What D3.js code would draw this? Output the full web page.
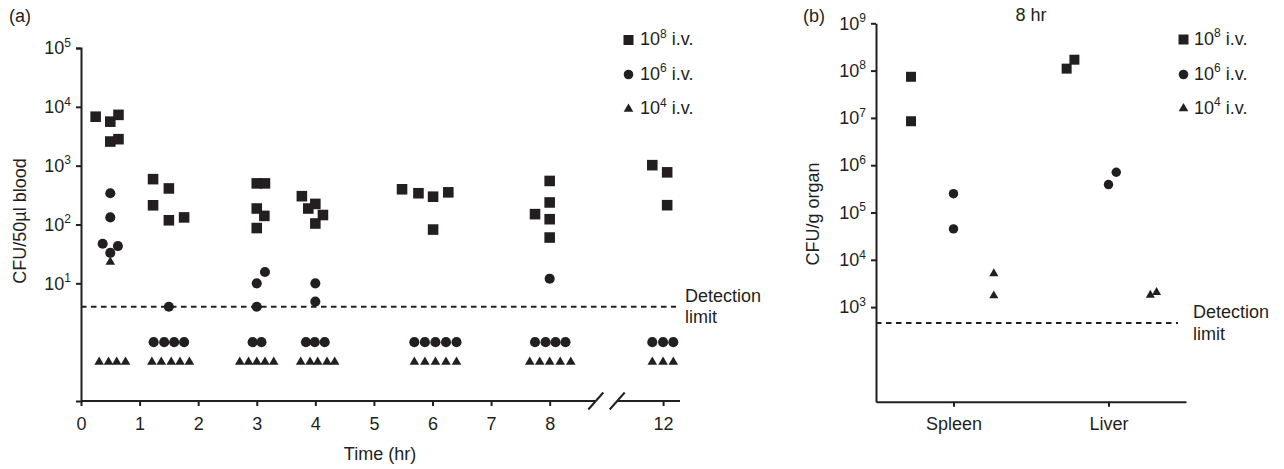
<!DOCTYPE html>
<html><head><meta charset="utf-8">
<script src="https://cdn.jsdelivr.net/npm/d3@7"></script>
<style>
body{margin:0;background:#fff}
text{font-family:"Liberation Sans",Arial,Helvetica,sans-serif;fill:#231f20}
</style>
</head><body>
<svg id="chart" width="1284" height="469"></svg>
<script>
// ---------------- DATA ----------------
// Panel (a): blood CFU over time, [time (hr), CFU/50µl]
const sq8 = [
  [0.25,6800],[0.50,5600],[0.64,7300],[0.50,2570],[0.64,2820],
  [1.23,590],[1.23,212],[1.50,410],[1.50,118],[1.76,132],
  [3.00,500],[3.14,500],[3.00,187],[3.13,140],[3.00,87],
  [3.77,303],[3.88,187],[4.00,224],[4.13,145],[4.00,104],
  [5.48,397],[5.76,340],[6.01,297],[6.27,352],[6.01,82],
  [7.75,150],[8.00,550],[8.00,237],[8.00,123],[8.00,60],
  [11.815,1020],[12.07,770],[12.07,213]
];
const ci6 = [
  [0.50,340],[0.50,132],[0.37,47],[0.50,33],[0.63,43],
  [1.50,4],
  [3.14,15.6],[3.00,10],[3.00,4],
  [4.00,10],[4.00,4.9],
  [8.00,12],
  // below detection limit
  [1.24,1],[1.42,1],[1.59,1],[1.76,1],
  [2.93,1],[3.08,1],
  [3.84,1],[3.99,1],[4.16,1],
  [5.69,1],[5.87,1],[6.05,1],[6.23,1],[6.41,1],
  [7.75,1],[7.93,1],[8.10,1],[8.27,1],
  [11.815,1],[12.0,1],[12.175,1]
];
const tr4 = [
  [0.50,23],
  // below detection limit
  [0.31,0.46],[0.47,0.46],[0.61,0.46],[0.76,0.46],
  [1.21,0.46],[1.37,0.46],[1.54,0.46],[1.69,0.46],[1.85,0.46],
  [2.71,0.46],[2.86,0.46],[3.00,0.46],[3.14,0.46],[3.29,0.46],
  [3.75,0.46],[3.91,0.46],[4.04,0.46],[4.20,0.46],[4.33,0.46],
  [5.69,0.46],[5.87,0.46],[6.05,0.46],[6.23,0.46],[6.41,0.46],
  [7.66,0.46],[7.83,0.46],[8.00,0.46],[8.18,0.46],[8.36,0.46],
  [11.815,0.46],[12.0,0.46],[12.175,0.46]
];
const detectA = 4;
const timeTicks = [0,1,2,3,4,5,6,7,8,12];
const yTicksA = [10,100,1000,10000,100000];

// Panel (b): organ CFU at 8 hr, [organ position (1 = Spleen, 2 = Liver), CFU/g]
const organs = ["Spleen","Liver"];
const orgSq8 = [[0.726,7.4e7],[0.726,8.5e6],[1.73,1.1e8],[1.78,1.7e8]];
const orgCi6 = [[1.0,2.5e5],[1.0,4.5e4],[2.0,3.9e5],[2.05,7.1e5]];
const orgTr4 = [[1.26,5100],[1.26,1740],[2.27,1800],[2.31,2050]];
const detectB = 460;
const yTicksB = [1e3,1e4,1e5,1e6,1e7,1e8,1e9];

const legendItems = [
  {sym:"square", exp:"8"},
  {sym:"circle", exp:"6"},
  {sym:"triangle", exp:"4"}
];

// ---------------- DRAW ----------------
const ink = "#231f20";
const FS = 18, SUP = 12, SUPDY = 7.5;
const svg = d3.select("#chart");

const symType = {square:d3.symbolSquare, circle:d3.symbolCircle, triangle:d3.symbolTriangle};
const sizesA = {square:112, circle:80, triangle:40};
const sizesB = {square:100, circle:70, triangle:36};

function supLabel(sel, expFn){
  sel.text(null);
  sel.append("tspan").text("10");
  sel.append("tspan").attr("dy",-SUPDY).attr("font-size",SUP).text(expFn);
}

function drawPoints(g, data, type, size, x, y){
  g.selectAll(null).data(data).enter().append("path")
    .attr("d", d3.symbol().type(symType[type]).size(size))
    .attr("transform", d => `translate(${x(d[0])},${y(d[1])})`)
    .attr("fill", ink);
}

function legend(g, x0, tx, rows){
  legendItems.forEach((it,i)=>{
    const by = rows[i];
    g.append("path")
      .attr("d", d3.symbol().type(symType[it.sym]).size(it.sym==="square"?100:(it.sym==="circle"?72:40)))
      .attr("transform",`translate(${x0},${by-5})`).attr("fill",ink);
    const t = g.append("text").attr("x",tx).attr("y",by).attr("font-size",FS);
    t.append("tspan").text("10");
    t.append("tspan").attr("dy",-SUPDY).attr("font-size",SUP).text(it.exp);
    t.append("tspan").attr("dy",SUPDY).text(" i.v.");
  });
}

// ---- Panel (a)
const xA = d3.scaleLinear().domain([0, 8.97, 11.03, 12.29]).range([81, 606.5, 606.5, 680]);
const yA = d3.scaleLog().domain([0.1, 1e5]).range([401, 48]);
const gA = svg.append("g");

const yAxA = gA.append("g").attr("transform","translate(81,0)")
  .call(d3.axisLeft(yA).tickValues(yTicksA).tickSize(5).tickSizeOuter(5).tickPadding(5));
yAxA.selectAll(".tick text").attr("font-size",FS).attr("fill",ink)
  .call(s => supLabel(s, d => Math.round(Math.log10(d))));
yAxA.selectAll("path,line").attr("stroke",ink).attr("stroke-width",2);

const xAxA = gA.append("g").attr("transform","translate(0,401)")
  .call(d3.axisBottom(xA).tickValues(timeTicks).tickSize(5).tickPadding(11).tickFormat(d3.format("d")));
xAxA.select(".domain").remove();
xAxA.selectAll(".tick text").attr("font-size",FS).attr("fill",ink);
xAxA.selectAll("line").attr("stroke",ink).attr("stroke-width",2);
const bx = xA(10);
gA.append("line").attr("x1",81).attr("x2",bx-10.7).attr("y1",401).attr("y2",401).attr("stroke",ink).attr("stroke-width",2);
gA.append("line").attr("x1",bx+10.7).attr("x2",xA(12.29)).attr("y1",401).attr("y2",401).attr("stroke",ink).attr("stroke-width",2);
[-10.7, 10.7].forEach(o=>{
  gA.append("line").attr("x1",bx+o-7.5).attr("y1",409.5).attr("x2",bx+o+7.5).attr("y2",392.5)
    .attr("stroke",ink).attr("stroke-width",2);
});

gA.append("line").attr("x1",81).attr("x2",676).attr("y1",yA(detectA)).attr("y2",yA(detectA))
  .attr("stroke",ink).attr("stroke-width",2).attr("stroke-dasharray","5.5,4.5");
gA.append("text").attr("x",685).attr("y",301.5).attr("font-size",FS).text("Detection");
gA.append("text").attr("x",685).attr("y",323).attr("font-size",FS).text("limit");

drawPoints(gA, sq8, "square", sizesA.square, xA, yA);
drawPoints(gA, ci6, "circle", sizesA.circle, xA, yA);
drawPoints(gA, tr4, "triangle", sizesA.triangle, xA, yA);

legend(gA, 628.5, 640, [45, 79.5, 114]);

gA.append("text").attr("x",9).attr("y",22).attr("font-size",FS).text("(a)");
gA.append("text").attr("transform","translate(26,221) rotate(-90)").attr("text-anchor","middle")
  .attr("font-size",FS).text("CFU/50µl blood");
gA.append("text").attr("x",380).attr("y",460).attr("text-anchor","middle").attr("font-size",FS).text("Time (hr)");

// ---- Panel (b)
const xB = d3.scaleLinear().domain([0.5, 2.5]).range([876, 1186]);
const yB = d3.scaleLog().domain([10, 1e9]).range([401.7, 23.3]);
const gB = svg.append("g");

const yAxB = gB.append("g").attr("transform","translate(876,0)")
  .call(d3.axisLeft(yB).tickValues(yTicksB).tickSize(5).tickSizeOuter(0).tickPadding(5));
yAxB.selectAll(".tick text").attr("font-size",FS).attr("fill",ink)
  .call(s => supLabel(s, d => Math.round(Math.log10(d))));
yAxB.selectAll("path,line").attr("stroke",ink).attr("stroke-width",2);

const xAxB = gB.append("g").attr("transform","translate(0,401.7)")
  .call(d3.axisBottom(xB).tickValues([1,2]).tickSize(5).tickSizeOuter(0).tickPadding(11).tickFormat((d,i)=>organs[i]));
xAxB.selectAll(".tick text").attr("font-size",FS).attr("fill",ink);
xAxB.selectAll("path,line").attr("stroke",ink).attr("stroke-width",2);

gB.append("line").attr("x1",876).attr("x2",1178).attr("y1",yB(detectB)).attr("y2",yB(detectB))
  .attr("stroke",ink).attr("stroke-width",2).attr("stroke-dasharray","5.5,4.5");
gB.append("text").attr("x",1193).attr("y",318).attr("font-size",FS).text("Detection");
gB.append("text").attr("x",1193).attr("y",340).attr("font-size",FS).text("limit");

drawPoints(gB, orgSq8, "square", sizesB.square, xB, yB);
drawPoints(gB, orgCi6, "circle", sizesB.circle, xB, yB);
drawPoints(gB, orgTr4, "triangle", sizesB.triangle, xB, yB);

legend(gB, 1183.5, 1194, [44.5, 79.5, 113.5]);

gB.append("text").attr("x",803).attr("y",22).attr("font-size",FS).text("(b)");
gB.append("text").attr("x",1031).attr("y",21).attr("text-anchor","middle").attr("font-size",FS).text("8 hr");
gB.append("text").attr("transform","translate(819,214) rotate(-90)").attr("text-anchor","middle")
  .attr("font-size",FS).text("CFU/g organ");
</script>
</body></html>
